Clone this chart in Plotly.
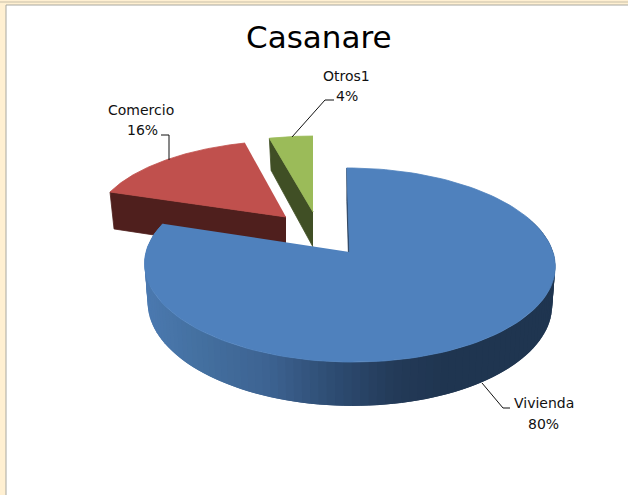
import numpy as np
import plotly.graph_objects as go

title = "Casanare"
categories = ["Vivienda", "Comercio", "Otros1"]
values = [80, 16, 4]

top_colors = ["#4F81BD", "#C0504D", "#9BBB59"]
cut_colors = ["#1F3550", "#4F1F1D", "#404F25"]

# projection of each exploded slice: apex x, apex y, a, b, k, skew, depth, base narrowing
geometry = {
    "Vivienda": (349.5, 252, 203.5, 95.3, 0.134, -3, 38, 0.985),
    "Comercio": (286, 217, 191.3, 83.2, 0.0924, 3, 38, 0.977),
    "Otros1": (313, 212, 191.3, 83.0, 0.0924, 0, 35, 0.96),
}
# (pixel x, colour) stops for the shaded outer wall of the big slice
wall_x = [145, 200, 270, 340, 400, 450, 555]
wall_rgb = [(75, 121, 176), (68, 112, 160), (61, 99, 146), (45, 75, 113),
            (35, 58, 88), (31, 53, 80), (31, 53, 80)]

total = sum(values)
fractions = np.cumsum([0] + values) / total
W, H = 628, 495


def project(theta, g, drop=False):
    ax, ay, a, b, k, s, d, n = g
    u, v = np.sin(theta), np.cos(theta)
    den = 1 + k * v
    x = ax + (a * u + s * v) / den
    y = ay - b * v / den
    if drop:
        x = ax + (x - ax) * n
        y = y + d / den
    return x, y


def apex(g, drop=False):
    return g[0], g[1] + (g[6] if drop else 0)


fig = go.Figure()


def poly(xs, ys, color, width=0.8):
    fig.add_trace(go.Scatter(x=list(xs), y=list(ys), mode="lines", fill="toself",
                             fillcolor=color, line=dict(color=color, width=width),
                             hoverinfo="skip", showlegend=False))


def wall_color(x):
    c = [np.interp(x, wall_x, [r[i] for r in wall_rgb]) for i in range(3)]
    return "rgb(%d,%d,%d)" % tuple(int(round(i)) for i in c)


def draw_slice(i):
    name = categories[i]
    g = geometry[name]
    t0, t1 = fractions[i] * 2 * np.pi, fractions[i + 1] * 2 * np.pi
    ts = np.linspace(t0, t1, 140)
    ax, ay = apex(g)
    axd, ayd = apex(g, True)
    x1, y1 = project(t0, g)
    x1d, y1d = project(t0, g, True)
    poly([ax, x1, x1d, axd], [ay, y1, y1d, ayd], cut_colors[i])
    if i == 0:
        # each band runs on under the next one, so no seam shows between them
        for a_, b_ in zip(ts[:-2], ts[2:]):
            if np.cos((a_ + b_) / 2) > 0.35:
                continue
            mid = np.linspace(a_, b_, 3)
            xa, ya = project(mid, g)
            xad, yad = project(mid, g, True)
            poly(list(xa) + list(xad[::-1]), list(ya) + list(yad[::-1]),
                 wall_color(xa[0]), width=0)
    xs, ys = project(ts, g)
    poly([ax] + list(xs), [ay] + list(ys), top_colors[i])


for i in [2, 1, 0]:
    draw_slice(i)

leaders = {
    "Vivienda": ([482, 503, 510], [383, 408, 408]),
    "Comercio": ([161, 169, 169], [135, 135, 160]),
    "Otros1": ([334, 325, 292], [100, 100, 137]),
}
label_pos = {
    "Vivienda": ((544, 403), (543, 424)),
    "Comercio": ((141, 110), (142, 130)),
    "Otros1": ((346, 76), (347, 96)),
}
for name, val in zip(categories, values):
    lx, ly = leaders[name]
    fig.add_trace(go.Scatter(x=lx, y=ly, mode="lines", line=dict(color="#111111", width=1),
                             hoverinfo="skip", showlegend=False))
    (x1, y1), (x2, y2) = label_pos[name]
    for tx, px, py in [(name, x1, y1), (f"{val}%", x2, y2)]:
        fig.add_annotation(x=px, y=py, text=tx, showarrow=False, xanchor="center", yanchor="middle",
                           font=dict(family="DejaVu Sans", size=14, color="#111111"))

fig.add_annotation(x=319, y=37, text=title, showarrow=False, xanchor="center", yanchor="middle",
                   font=dict(family="DejaVu Sans", size=31, color="#000000"))

frame = [
    dict(type="rect", x0=0, x1=W, y0=0, y1=H, fillcolor="#FFF0D2", line_width=0, layer="below"),
    dict(type="rect", x0=6, x1=W + 5, y0=5, y1=H + 5, fillcolor="#FFFFFF", line=dict(color="#A8A8A0", width=1), layer="below"),
    dict(type="line", x0=0, x1=W, y0=2, y1=2, line=dict(color="#C8BFA8", width=1), layer="below"),
]
fig.update_layout(
    width=W, height=H, margin=dict(l=0, r=0, t=0, b=0), showlegend=False,
    paper_bgcolor="white", plot_bgcolor="white", shapes=frame,
    xaxis=dict(range=[0, W], visible=False, fixedrange=True),
    yaxis=dict(range=[H, 0], visible=False, fixedrange=True),
)
fig.write_html("out.html", config=dict(displayModeBar=False),
               post_script="document.body.style.margin='0';document.body.style.overflow='hidden';")
